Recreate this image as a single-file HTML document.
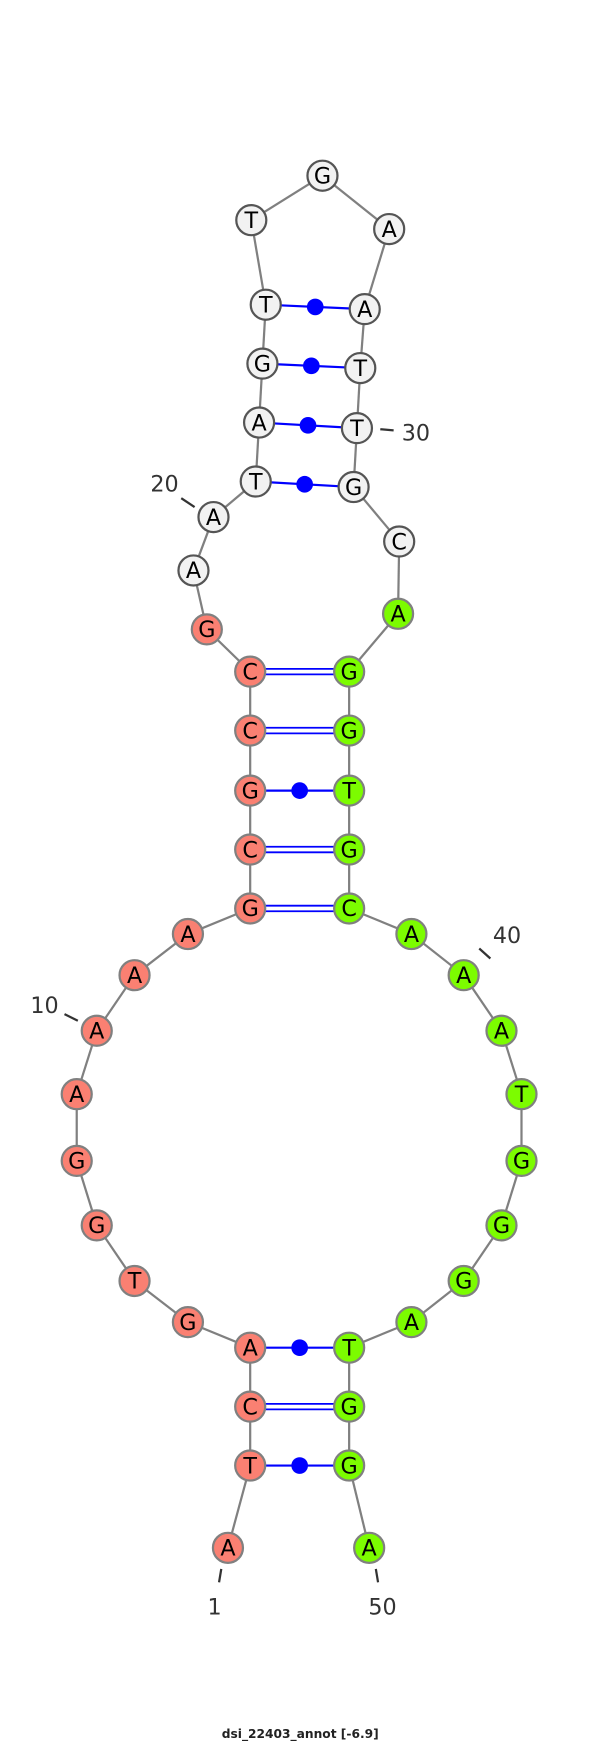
<!DOCTYPE html>
<html><head><meta charset="utf-8"><style>html,body{margin:0;padding:0;background:#fff}svg{display:block}</style></head>
<body>
<svg width="600" height="1744" viewBox="0 0 539.6 1568.4" xmlns="http://www.w3.org/2000/svg">
<g id="bb" stroke="#808080" stroke-width="2" fill="none"></g>
<g id="pp"></g>
<g id="nn"></g>
<g id="ll"></g>
<text x="270" y="1563" text-anchor="middle" font-family="DejaVu Sans, sans-serif" font-weight="bold" font-size="11" fill="#222">dsi_22403_annot [-6.9]</text>
</svg>
<script>
var N=[[205,1392],[225,1318],[225,1265],[225,1212],[169,1189],[121,1152],[87,1102],[69,1044],[69,984],[87,927],[121,877],[169,840],[225,817],[225,764],[225,711],[225,657],[225,604],[186,566],[174,513],[192,465],[230,433],[233,380],[236,327],[239,274],[226,198],[290,158],[350,206],[328,278],[324,331],[321,385],[318,438],[359,487],[358,552],[314,604],[314,657],[314,711],[314,764],[314,817],[370,840],[417,877],[451,927],[469,984],[469,1044],[451,1102],[417,1152],[370,1189],[314,1212],[314,1265],[314,1318],[332,1392]];
var S="ATCAGTGGAAAAGCGCCGAATAGTTGAATTGCAGGTGCAAATGGGATGGA";
var P=[[2,49,1],[3,48,2],[4,47,1],[13,38,2],[14,37,2],[15,36,1],[16,35,2],[17,34,2],[21,31,1],[22,30,1],[23,29,1],[24,28,1]];
var ns="http://www.w3.org/2000/svg";
function el(t,a,p,txt){var e=document.createElementNS(ns,t);for(var k in a)e.setAttribute(k,a[k]);if(txt)e.textContent=txt;document.getElementById(p).appendChild(e);return e;}
for(var i=0;i<49;i++)el("line",{x1:N[i][0],y1:N[i][1],x2:N[i+1][0],y2:N[i+1][1]},"bb");
P.forEach(function(p){var a=N[p[0]-1],b=N[p[1]-1];
if(p[2]==1){el("line",{x1:a[0],y1:a[1],x2:b[0],y2:b[1],stroke:"#0000ff","stroke-width":2},"pp");el("circle",{cx:(a[0]+b[0])/2,cy:(a[1]+b[1])/2,r:7.5,fill:"#0000ff"},"pp");}
else{[-2.5,2.5].forEach(function(d){el("line",{x1:a[0],y1:a[1]+d,x2:b[0],y2:b[1]+d,stroke:"#0000ff","stroke-width":1.6},"pp");});}});
for(var i=0;i<50;i++){var w=(i>=18&&i<32);var c=i<18?"#fa8072":(w?"#f2f2f2":"#7cfc00");var st=w?"#555":"#808080";
el("circle",{cx:N[i][0],cy:N[i][1],r:13.5,fill:c,stroke:st,"stroke-width":2},"nn");
el("text",{x:N[i][0],y:N[i][1]+7,"text-anchor":"middle","font-family":"DejaVu Sans, sans-serif","font-size":20,fill:"#000"},"nn",S[i]);}
var L=[["1",193,1452,199,1411,197,1423],["50",344,1452,338,1411,340,1423],["10",40,911,58,912,70,918],["20",148,442,163,448,175,456],["30",374,396,342,386,354,387],["40",456,848,441,862,431,853]];
L.forEach(function(l){el("text",{x:l[1],y:l[2],"text-anchor":"middle","font-family":"DejaVu Sans, sans-serif","font-size":20,fill:"#333"},"ll",l[0]);el("line",{x1:l[3],y1:l[4],x2:l[5],y2:l[6],stroke:"#333","stroke-width":2},"ll");});
</script>
</body></html>
